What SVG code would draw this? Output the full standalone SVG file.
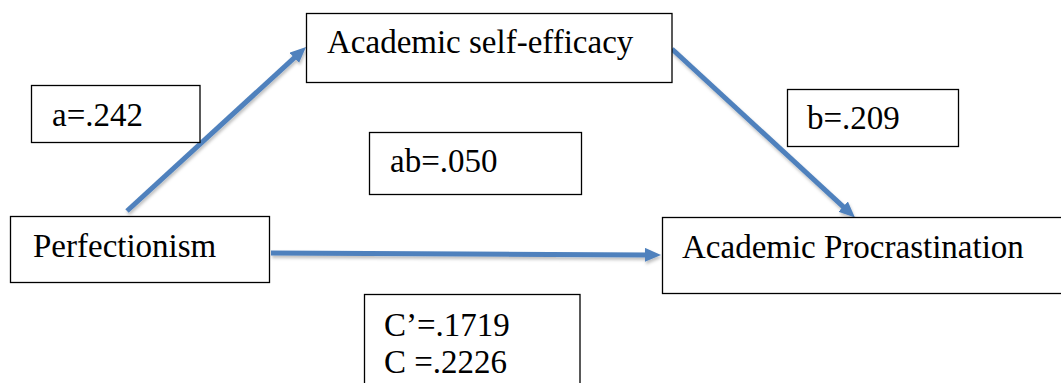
<svg xmlns="http://www.w3.org/2000/svg" width="1061" height="383" viewBox="0 0 1061 383">
  <style>
    .box { fill: #ffffff; stroke: #000000; stroke-width: 1.3; }
    .lbl { font-family: "Liberation Serif", "Times New Roman", serif; font-size: 33px; fill: #000000; }
    .arrow { stroke: #4f81bd; stroke-width: 5; fill: none; marker-end: url(#head); }
  </style>
  <defs>
    <marker id="head" markerUnits="userSpaceOnUse" markerWidth="18" markerHeight="16" refX="4" refY="7" orient="auto">
      <path d="M0,0 L16,7 L0,14 z" fill="#4f81bd"/>
    </marker>
    <filter id="shadow" x="-10%" y="-10%" width="120%" height="130%">
      <feDropShadow dx="1" dy="2.5" stdDeviation="1.5" flood-color="#000000" flood-opacity="0.25"/>
    </filter>
  </defs>
  <rect width="1061" height="383" fill="#ffffff"/>

  <g id="connectors" filter="url(#shadow)">
    <line class="arrow" x1="127" y1="211" x2="297.2" y2="55.1"/>
    <line class="arrow" x1="672" y1="49" x2="846.1" y2="209.3"/>
    <line class="arrow" x1="271" y1="253" x2="649" y2="254.9"/>
  </g>

  <g id="node-self-efficacy">
    <rect class="box" x="306.5" y="13.5" width="365.5" height="69"/>
    <text class="lbl" x="327" y="53">Academic self-efficacy</text>
  </g>
  <g id="node-perfectionism">
    <rect class="box" x="10.5" y="216.5" width="259" height="66"/>
    <text class="lbl" x="33" y="257">Perfectionism</text>
  </g>
  <g id="node-procrastination">
    <rect class="box" x="662.5" y="217.5" width="410" height="76"/>
    <text class="lbl" x="682" y="258">Academic Procrastination</text>
  </g>
  <g id="label-a">
    <rect class="box" x="31.5" y="85.5" width="168.5" height="57"/>
    <text class="lbl" x="52" y="126">a=.242</text>
  </g>
  <g id="label-ab">
    <rect class="box" x="369.5" y="132.5" width="212" height="62"/>
    <text class="lbl" x="390" y="172">ab=.050</text>
  </g>
  <g id="label-b">
    <rect class="box" x="787.5" y="89.5" width="171" height="57"/>
    <text class="lbl" x="807" y="129">b=.209</text>
  </g>
  <g id="label-c">
    <rect class="box" x="364.5" y="294.5" width="215.5" height="100"/>
    <text class="lbl" x="384" y="336">C’=.1719</text>
    <text class="lbl" x="384" y="373">C =.2226</text>
  </g>
</svg>
